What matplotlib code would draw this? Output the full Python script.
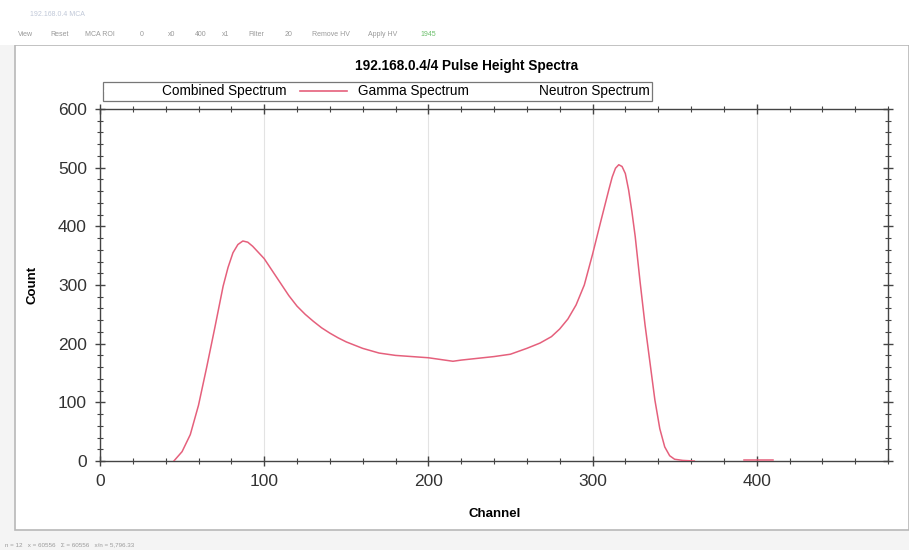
import numpy as np
import matplotlib.pyplot as plt
from matplotlib.lines import Line2D
from matplotlib.patches import Rectangle

plt.rcParams["font.family"] = ["Liberation Sans", "DejaVu Sans"]

channel = [45, 50, 55, 60, 65, 70, 75, 78, 81, 84, 87, 90, 93, 96, 100,
           105, 110, 115, 120, 125, 130, 135, 140, 145, 150, 160, 170, 180,
           190, 200, 210, 215, 220, 230, 240, 250, 260, 268, 275, 280, 285,
           290, 295, 300, 305, 310, 312, 314, 316, 318, 320, 322, 324, 326,
           329, 332, 335, 338, 341, 344, 347, 350, 355, 362]
gamma = [0, 16, 45, 95, 160, 228, 298, 330, 355, 369, 375, 373, 366, 357,
         345, 324, 303, 282, 264, 250, 238, 227, 218, 210, 203, 192, 184,
         180, 178, 176, 172, 170, 172, 175, 178, 182, 192, 201, 212, 225,
         242, 266, 300, 352, 408, 463, 484, 499, 505, 502, 490, 462, 425,
         383, 305, 232, 168, 104, 55, 24, 9, 3, 1, 0]

# pequeño tramo de ruido cerca de cero
noise_channel = [392, 398, 404, 410]
noise_counts = [1, 1, 1, 1]

legend_labels = ["Combined Spectrum", "Gamma Spectrum", "Neutron Spectrum"]
toolbar_items = ["View", "Reset", "MCA ROI", "0", "x0", "400", "x1",
                 "Filter", "20", "Remove HV", "Apply HV", "1945"]

LINE_COLOR = "#e5607c"
AXIS_COLOR = "#444444"

W, H = 909, 550
fig = plt.figure(figsize=(W / 100, H / 100), dpi=100)

# marco de la ventana --------------------------------------------------

fig.patches.append(Rectangle((0, 0), 1, 1 - 45 / H, transform=fig.transFigure,
                             facecolor="#f4f4f4", edgecolor="none", zorder=-10))
fig.patches.append(Rectangle((15 / W, (H - 530) / H), (W - 15) / W, (530 - 45) / H,
                             transform=fig.transFigure, facecolor="white",
                             edgecolor="#b8b8b8", lw=1.2, zorder=-9))
fig.patches.append(Rectangle((0, 1 - 45 / H), 1, 45 / H, transform=fig.transFigure,
                             facecolor="white", edgecolor="none", zorder=-9))
fig.text(30 / W, 1 - 14 / H, "192.168.0.4 MCA", fontsize=5, color="#c0c8d8", va="center")
xpos = [18, 50, 85, 140, 168, 195, 222, 248, 285, 312, 368, 420]
for xp, item in zip(xpos, toolbar_items):
    color = "#6bbf6b" if item == "1945" else "#999999"
    fig.text(xp / W, 1 - 34 / H, item, fontsize=5, color=color, va="center")
fig.text(5 / W, 1 - 545 / H, "n = 12   x = 60556   Σ = 60556   x/n = 5,796.33",
         fontsize=4.5, color="#9a9a9a", va="center")

# grafico ----------------------------------------------------------------

ax = fig.add_axes([100 / W, (H - 461) / H, (888 - 100) / W, (461 - 109) / H])
ax.plot(channel, gamma, color=LINE_COLOR, lw=1.1, zorder=3)
ax.plot(noise_channel, noise_counts, color=LINE_COLOR, lw=1.1, zorder=3)

ax.set_xlim(0, 480)
ax.set_ylim(0, 600)
ax.set_xticks([0, 100, 200, 300, 400])
ax.set_xticks(np.arange(0, 481, 20), minor=True)
ax.set_yticks(np.arange(0, 601, 100))
ax.set_yticks(np.arange(0, 601, 20), minor=True)
ax.grid(axis="x", which="major", color="#e3e3e3", lw=0.8, zorder=0)

for s in ax.spines.values():
    s.set_color(AXIS_COLOR)
    s.set_linewidth(1.0)
ax.tick_params(which="both", direction="inout", top=True, right=True,
               color=AXIS_COLOR, labelsize=12.5, labelcolor="#333333")
ax.tick_params(which="major", length=7, width=1.0, pad=6)
ax.tick_params(which="minor", length=4.5, width=0.8)

ax.set_xlabel("Channel", fontsize=9.5, fontweight="bold")
ax.xaxis.set_label_coords((495 - 100) / (888 - 100), -(508 - 461) / (461 - 109))
ax.set_ylabel("Count", fontsize=9.5, fontweight="bold")
ax.yaxis.set_label_coords(-(100 - 38) / (888 - 100), (461 - 285) / (461 - 109))

fig.text(467 / W, 1 - 66 / H, "192.168.0.4/4 Pulse Height Spectra",
         fontsize=9.8, fontweight="bold", ha="center", va="center")

handles = [
    Line2D([0], [0], color="white", lw=1.2),
    Line2D([0], [0], color=LINE_COLOR, lw=1.2),
    Line2D([0], [0], color="white", lw=1.2),
]
leg = fig.legend(handles, legend_labels, ncol=3, fontsize=9.8,
                 loc="center", bbox_to_anchor=(377.5 / W, 1 - 91.5 / H),
                 frameon=True, fancybox=False, handlelength=3.4,
                 columnspacing=1.0, borderpad=0.15, handletextpad=0.8)
leg.get_frame().set_edgecolor("#555555")
leg.get_frame().set_linewidth(0.9)

fig.savefig("out.png", dpi=100)
